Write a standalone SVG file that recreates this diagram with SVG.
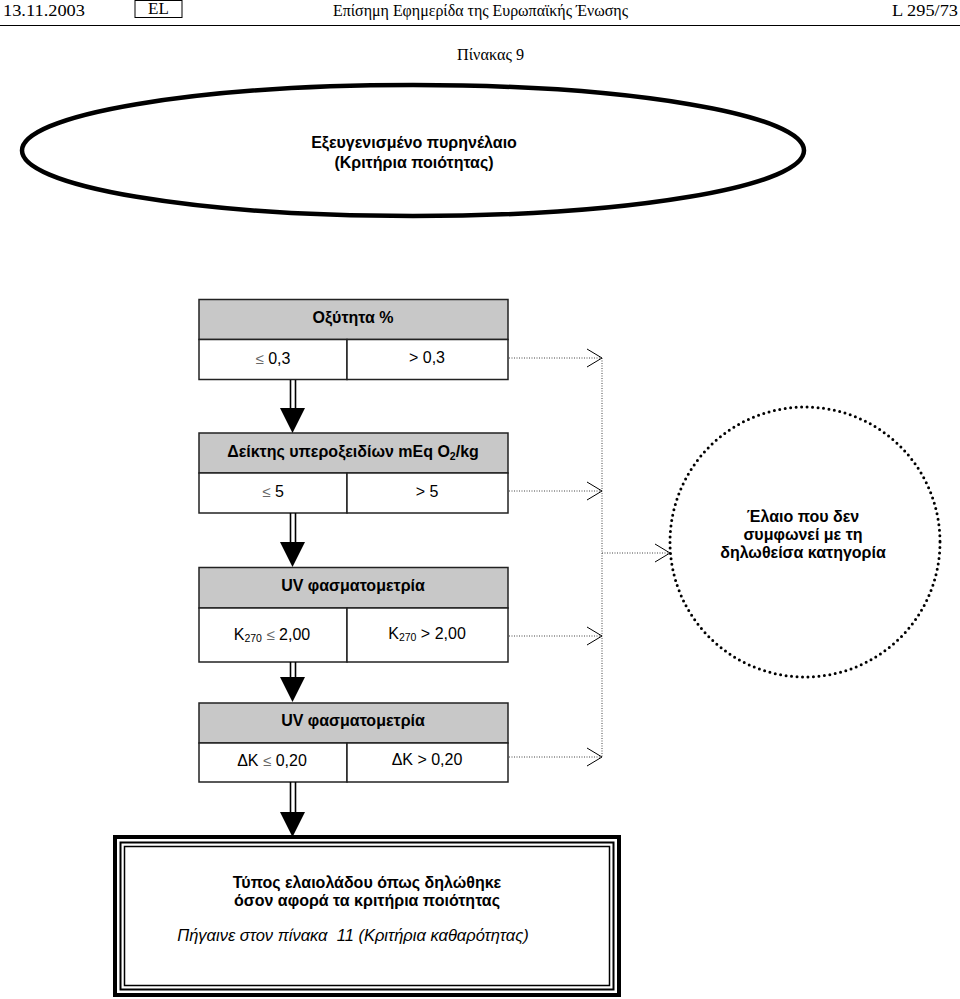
<svg xmlns="http://www.w3.org/2000/svg" width="960" height="999" viewBox="0 0 960 999">
<style>
.hdr{font-family:"Liberation Serif",serif;font-size:17px;fill:#000}
.b{font-family:"Liberation Sans",Arial,sans-serif;font-weight:bold;font-size:16px;fill:#000;text-anchor:middle}
.n{font-family:"Liberation Sans",Arial,sans-serif;font-size:16px;fill:#000;text-anchor:middle}
.it{font-family:"Liberation Sans",Arial,sans-serif;font-style:italic;font-size:16.5px;fill:#000;text-anchor:middle}
.head{fill:#c8c8c8;stroke:#222;stroke-width:1.5}
.row{fill:#fff;stroke:#222;stroke-width:1.5}
.dot{fill:none;stroke:#444;stroke-width:1;stroke-dasharray:1 1.5}
.chev{fill:none;stroke:#000;stroke-width:1}
.dbl{stroke:#000;stroke-width:1.6}
.le{fill:#666;font-size:15px}
.sub{font-size:10.5px}
</style>
<g id="page-header">
<text class="hdr" x="3" y="16" textLength="82" lengthAdjust="spacingAndGlyphs">13.11.2003</text>
<rect x="135" y="0.5" width="47" height="17" fill="none" stroke="#000" stroke-width="1"/>
<text class="hdr" x="158.5" y="14" font-size="12.5" text-anchor="middle">EL</text>
<text class="hdr" x="333" y="16" textLength="295" lengthAdjust="spacingAndGlyphs">Επίσημη Εφημερίδα της Ευρωπαϊκής Ένωσης</text>
<text class="hdr" x="892" y="16" textLength="66" lengthAdjust="spacingAndGlyphs">L 295/73</text>
<line x1="0" y1="25.5" x2="960" y2="25.5" stroke="#000" stroke-width="1"/>
<text class="hdr" x="457" y="60" font-size="17" textLength="67" lengthAdjust="spacingAndGlyphs">Πίνακας 9</text>
</g>
<g id="start">
<ellipse cx="413" cy="150.5" rx="391" ry="65.5" fill="#fff" stroke="#000" stroke-width="4.5"/>
<text class="b" x="414" y="148">Εξευγενισμένο πυρηνέλαιο</text>
<text class="b" x="414" y="168">(Κριτήρια ποιότητας)</text>
</g>
<g id="acidity">
<rect class="head" x="199" y="299.5" width="309" height="40"/>
<rect class="row" x="199" y="339.5" width="148" height="40"/>
<rect class="row" x="347" y="339.5" width="161" height="40"/>
<text class="b" x="353" y="323">Οξύτητα %</text>
<text class="n" x="273" y="364"><tspan class="le">≤</tspan> 0,3</text>
<text class="n" x="427" y="363">&gt; 0,3</text>
</g>
<g id="peroxide">
<rect class="head" x="199" y="433" width="309" height="40"/>
<rect class="row" x="199" y="473" width="148" height="40"/>
<rect class="row" x="347" y="473" width="161" height="40"/>
<text class="b" x="353" y="457">Δείκτης υπεροξειδίων mEq O<tspan class="sub" dy="3">2</tspan><tspan dy="-3">/kg</tspan></text>
<text class="n" x="273" y="497"><tspan class="le">≤</tspan> 5</text>
<text class="n" x="427" y="497">&gt; 5</text>
</g>
<g id="uv-k270">
<rect class="head" x="199" y="567.5" width="309" height="40.5"/>
<rect class="row" x="199" y="608" width="148" height="54"/>
<rect class="row" x="347" y="608" width="161" height="54"/>
<text class="b" x="353" y="591">UV φασματομετρία</text>
<text class="n" x="272" y="640">K<tspan class="sub" dy="2">270</tspan><tspan dy="-2"> </tspan><tspan class="le">≤</tspan> 2,00</text>
<text class="n" x="427" y="639">K<tspan class="sub" dy="2">270</tspan><tspan dy="-2"> &gt; 2,00</tspan></text>
</g>
<g id="uv-dk">
<rect class="head" x="199" y="703" width="309" height="40"/>
<rect class="row" x="199" y="743" width="148" height="39"/>
<rect class="row" x="347" y="743" width="161" height="39"/>
<text class="b" x="353" y="726">UV φασματομετρία</text>
<text class="n" x="272" y="766">ΔK <tspan class="le">≤</tspan> 0,20</text>
<text class="n" x="427" y="765">ΔK &gt; 0,20</text>
</g>
<g id="reject">
<circle cx="805" cy="542" r="135" fill="#fff" stroke="#000" stroke-width="3" stroke-dasharray="0 5.5" stroke-linecap="round"/>
<text class="b" x="803" y="522">Έλαιο που δεν</text>
<text class="b" x="803" y="540">συμφωνεί με τη</text>
<text class="b" x="803" y="558">δηλωθείσα κατηγορία</text>
</g>
<g id="result">
<rect x="115" y="837" width="504" height="158" fill="#fff" stroke="#000" stroke-width="4"/>
<rect x="120.5" y="842.5" width="493" height="147" fill="none" stroke="#000" stroke-width="2"/>
<rect x="124.5" y="846.5" width="485" height="139" fill="none" stroke="#000" stroke-width="1.5"/>
<text class="b" x="367" y="888">Τύπος ελαιολάδου όπως δηλώθηκε</text>
<text class="b" x="367" y="906">όσον αφορά τα κριτήρια ποιότητας</text>
<text class="it" x="353" y="941" xml:space="preserve">Πήγαινε στον πίνακα  11 (Κριτήρια καθαρότητας)</text>
</g>
<g id="connectors">
<g id="down-arrows">
<line class="dbl" x1="290.5" y1="380" x2="290.5" y2="409"/>
<line class="dbl" x1="295.5" y1="380" x2="295.5" y2="409"/>
<polygon points="280,408 305,408 292.5,433" fill="#000"/>
<line class="dbl" x1="290.5" y1="513" x2="290.5" y2="543"/>
<line class="dbl" x1="295.5" y1="513" x2="295.5" y2="543"/>
<polygon points="280,542 305,542 292.5,567" fill="#000"/>
<line class="dbl" x1="290.5" y1="662" x2="290.5" y2="678"/>
<line class="dbl" x1="295.5" y1="662" x2="295.5" y2="678"/>
<polygon points="280,677 305,677 292.5,702" fill="#000"/>
<line class="dbl" x1="290.5" y1="782" x2="290.5" y2="813"/>
<line class="dbl" x1="295.5" y1="782" x2="295.5" y2="813"/>
<polygon points="280,812 305,812 292.5,837" fill="#000"/>
</g>
<g id="reject-lines">
<line class="dot" x1="509" y1="358" x2="601" y2="358"/>
<line class="dot" x1="509" y1="491" x2="601" y2="491"/>
<line class="dot" x1="509" y1="636" x2="601" y2="636"/>
<line class="dot" x1="509" y1="757" x2="601" y2="757"/>
<line class="dot" x1="602" y1="358" x2="602" y2="757"/>
<line class="dot" x1="602" y1="553" x2="669" y2="553"/>
<polyline class="chev" points="587,349 602,358 587,367"/>
<polyline class="chev" points="587,482 602,491 587,500"/>
<polyline class="chev" points="587,627 602,636 587,645"/>
<polyline class="chev" points="587,748 602,757 587,766"/>
<polyline class="chev" points="655,544 670,553 655,562"/>
</g>
</g>
</svg>
